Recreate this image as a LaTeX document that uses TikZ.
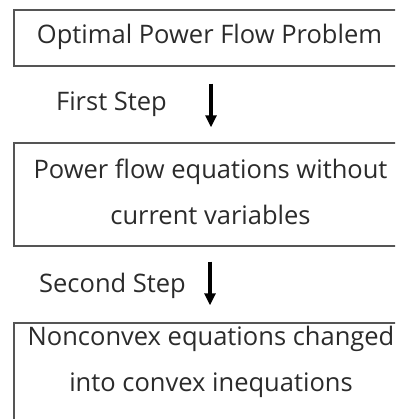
\documentclass[tikz,border=0pt]{standalone}
\usepackage{fontspec}
\setmainfont{Open Sans}
\usetikzlibrary{arrows.meta}
\definecolor{txt}{HTML}{2B2B2B}
\definecolor{edge}{HTML}{555555}
\tikzset{
  x=1pt, y=-1pt,
  stagebox/.style={draw=edge, line width=1.4pt, minimum width=392pt, inner sep=0pt},
  caption/.style={text=txt, font=\fontsize{25.5}{46}\selectfont, align=center, inner sep=0pt},
  steplabel/.style={text=txt, font=\fontsize{25.5}{30}\selectfont, inner sep=0pt},
  flow/.style={line width=3.2pt, -{Triangle[length=12pt,width=11pt]}}
}
\begin{document}
\begin{tikzpicture}
\useasboundingbox (0,0) rectangle (395,419);
\clip (0,0) rectangle (395,419);
% stage frames
\node[stagebox, minimum height=56pt] (b1) at (210,38) {};
\node[stagebox, minimum height=103pt] (b2) at (210,194.5) {};
\node[stagebox, minimum height=110pt] (b3) at (210,378) {};
% stage texts
\node[caption] (t1) at (209.5,37) {Optimal Power Flow Problem};
\node[caption] (t2) at (210.5,192) {Power flow equations without\\current variables};
\node[caption] (t3) at (211,362) {Nonconvex equations changed\\into convex inequations};
% step arrows
\draw[flow, shorten <=17pt, shorten >=15pt] ([xshift=1pt]b1.south) -- ([xshift=1pt]b2.north);
\draw[flow, shorten <=15pt, shorten >=17pt] ([xshift=0pt]b2.south) -- ([xshift=0pt]b3.north);
% step labels
\node[steplabel] (s1) at (111.5,104) {First Step};
\node[steplabel] (s2) at (112.5,286) {Second Step};
\end{tikzpicture}
\end{document}
